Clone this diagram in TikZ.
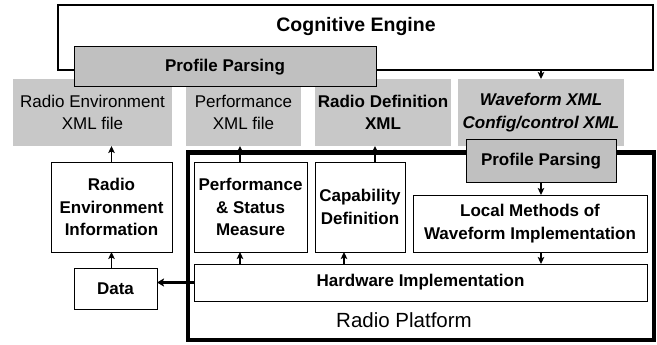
\documentclass[tikz,border=0pt]{standalone}
\usepackage{fontspec}
\setmainfont{Liberation Sans}
\usetikzlibrary{arrows.meta,calc}
\definecolor{xmlgray}{RGB}{200,200,200}
\definecolor{ppgray}{RGB}{192,192,192}
\tikzset{
  base/.style={inner sep=0pt,outer sep=0pt,align=center,font=\fontsize{17}{22.5}\selectfont},
  xmlbox/.style={base,fill=xmlgray},
  ppbox/.style={base,fill=ppgray,draw=black,line width=1pt,font=\fontsize{17}{22.5}\selectfont\bfseries},
  wbox/.style={base,fill=white,draw=black,line width=0.9pt,font=\fontsize{17}{22.5}\selectfont\bfseries},
  arr/.style={line width=1.3pt,-{Stealth[length=7pt,width=6.5pt,inset=1.5pt]}},
  thickarr/.style={line width=2.6pt,-{Stealth[length=7pt,width=8pt,inset=1.5pt]}}
}
\begin{document}
\begin{tikzpicture}[x=1pt,y=-1pt]
\useasboundingbox (0,0) rectangle (657,345);
% Cognitive engine
\node[base,draw=black,line width=2.4pt,minimum width=595,minimum height=65] (cog) at (355.5,37.5) {};
\node[base,font=\fontsize{19.5}{22}\selectfont\bfseries] (cogtext) at (356,27) {Cognitive Engine};
% XML boxes
\node[xmlbox,minimum width=159,minimum height=67] (rexml) at (92.5,112.5) {Radio Environment\\XML file};
\node[xmlbox,minimum width=115,minimum height=67] (perfxml) at (243.5,112.5) {Performance\\XML file};
\node[xmlbox,minimum width=136,minimum height=67,font=\fontsize{17}{22.5}\selectfont\bfseries] (rdxml) at (383,112.5) {Radio Definition\\XML};
\node[xmlbox,minimum width=166,minimum height=67,font=\fontsize{17}{22.5}\selectfont\bfseries\itshape] (wfxml) at (541,112.5) {Waveform XML\\Config/control XML};
% Profile parsing (top)
\node[ppbox,minimum width=302,minimum height=40] (pp1) at (225,67) {Profile Parsing};
% Radio platform
\node[base,draw=black,line width=4.5pt,minimum width=466,minimum height=187.5] (plat) at (421,246.25) {};
\node[base,font=\fontsize{20.5}{24}\selectfont] (plattext) at (404,320) {Radio Platform};
% Profile parsing (bottom)
\node[ppbox,minimum width=150,minimum height=42] (pp2) at (541,161) {Profile Parsing};
% white boxes
\node[wbox,minimum width=121,minimum height=90] (rei) at (111.5,207) {Radio\\Environment\\Information};
\node[wbox,minimum width=83,minimum height=41] (data) at (115.5,288.5) {Data};
\node[wbox,minimum width=113,minimum height=90] (psm) at (250.5,207) {Performance\\\&~Status\\Measure};
\node[wbox,minimum width=90,minimum height=90] (cap) at (360,207) {Capability\\Definition};
\node[wbox,minimum width=234,minimum height=57] (lm) at (530,223.5) {Local Methods of\\Waveform Implementation};
\node[wbox,minimum width=453,minimum height=37] (hw) at (420.5,282.5) {Hardware Implementation};
% connectors
\draw[arr] (cog.south -| wfxml.north) -- (wfxml.north);
\draw[arr] (rei.north) -- (rei.north |- rexml.south);
\draw[arr] (data.north -| rei.south) -- (rei.south);
\draw[arr] ([xshift=-3.5]perfxml.south |- psm.north) -- ([xshift=-3.5]perfxml.south);
\draw[arr] ([xshift=-3.5]perfxml.south |- hw.north) -- ([xshift=-3.5]perfxml.south |- psm.south);
\draw[arr] ([xshift=-8]rdxml.south |- cap.north) -- ([xshift=-8]rdxml.south);
\draw[arr] ([xshift=-16]cap.south |- hw.north) -- ([xshift=-16]cap.south);
\draw[arr] (pp2.south) -- (pp2.south |- lm.north);
\draw[arr] (pp2.south |- lm.south) -- (pp2.south |- hw.north);
\draw[thickarr] (hw.west) -- (hw.west -| data.east);
\end{tikzpicture}
\end{document}
